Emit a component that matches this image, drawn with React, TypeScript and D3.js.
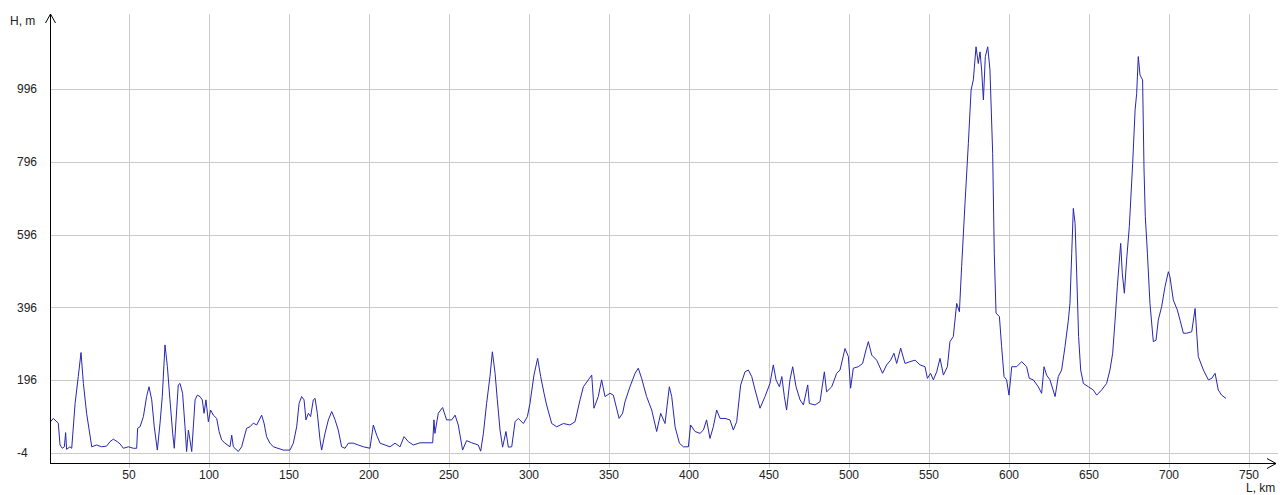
import React from 'react';
import * as d3 from 'd3';

// distance along the route, km
const distKm = [
  1.0, 2.7, 5.8, 6.9, 8.3, 9.6, 10.4, 11.0, 13.1, 14.2, 16.3, 18.3, 20.0, 21.5, 23.5, 25.6, 26.7, 29.8,
  32.9, 36.0, 38.1, 40.2, 42.7, 44.4, 46.5, 49.6, 52.7, 54.8, 55.4, 56.9, 59.0, 61.0, 62.5, 64.2, 65.8,
  67.7, 69.4, 70.8, 72.5, 74.0, 75.6, 77.3, 78.3, 79.8, 80.8, 81.9, 83.5, 85.0, 86.0, 87.1, 88.1, 89.2,
  91.3, 92.7, 94.4, 95.8, 96.9, 98.1, 99.6, 101.0, 102.7, 104.8, 106.3, 107.9, 110.0, 113.1, 114.2,
  115.2, 118.3, 120.4, 123.5, 125.6, 127.7, 129.8, 132.9, 134.4, 136.0, 138.1, 140.2, 146.5, 150.6,
  152.7, 154.8, 156.3, 157.9, 159.4, 160.6, 162.1, 163.5, 165.2, 166.3, 167.7, 169.4, 170.4, 172.5,
  174.6, 176.7, 178.8, 180.8, 182.9, 185.0, 187.1, 190.2, 193.3, 196.5, 200.6, 202.7, 204.8, 206.9,
  210.0, 213.1, 216.3, 219.4, 221.9, 224.6, 227.7, 231.9, 239.8, 240.6, 241.2, 243.3, 246.0, 248.5,
  251.7, 253.8, 255.8, 258.5, 261.0, 264.2, 268.3, 269.8, 271.5, 273.5, 275.6, 277.1, 278.8, 280.2,
  281.9, 283.5, 285.6, 287.1, 289.2, 291.3, 293.3, 296.5, 299.0, 300.6, 303.1, 305.4, 307.3, 309.4,
  311.0, 314.2, 317.3, 321.5, 325.6, 328.8, 331.9, 334.0, 337.1, 339.2, 340.6, 343.3, 345.4, 347.5,
  350.6, 352.7, 356.3, 358.5, 360.0, 363.1, 366.3, 368.3, 370.4, 373.5, 376.7, 379.8, 382.3, 385.0,
  387.7, 389.2, 391.3, 394.0, 396.5, 399.6, 401.0, 403.8, 406.9, 409.0, 411.0, 413.1, 415.2, 417.3,
  419.4, 422.5, 425.6, 427.7, 429.8, 432.3, 435.0, 437.1, 439.2, 441.3, 444.4, 447.5, 450.6, 452.7,
  454.4, 456.5, 458.0, 459.6, 461.0, 463.1, 464.8, 466.9, 469.4, 471.5, 474.2, 475.2, 478.8, 481.9,
  484.6, 486.0, 489.2, 492.3, 494.4, 497.5, 499.6, 501.0, 502.7, 505.8, 508.5, 510.6, 512.1, 514.2,
  517.3, 521.0, 523.5, 526.0, 528.1, 529.8, 532.3, 535.0, 538.1, 541.3, 544.4, 547.5, 549.0, 551.0,
  552.7, 554.8, 556.9, 559.0, 561.5, 563.1, 565.2, 567.3, 569.0, 570.4, 572.5, 574.6, 576.3, 577.7,
  579.4, 580.8, 581.9, 582.9, 584.0, 585.2, 586.7, 588.1, 589.8, 590.8, 591.9, 594.0, 595.4, 596.9,
  598.5, 600.0, 601.7, 604.8, 607.9, 611.0, 612.7, 615.2, 618.3, 620.4, 621.9, 623.5, 625.6, 628.8,
  630.8, 632.9, 635.0, 637.1, 638.1, 639.2, 640.2, 641.3, 642.3, 643.5, 644.8, 646.5, 649.6, 652.7,
  654.8, 657.9, 661.0, 663.1, 664.8, 666.3, 667.7, 669.8, 670.8, 672.1, 673.5, 675.2, 677.3, 678.8,
  679.8, 680.8, 681.9, 683.5, 684.4, 685.2, 686.5, 688.1, 690.2, 691.9, 693.3, 695.4, 697.5, 699.6,
  700.6, 702.7, 705.2, 706.9, 709.0, 711.0, 714.2, 716.3, 718.3, 721.5, 724.6, 726.7, 728.8, 730.8,
  732.9, 735.6,
];

// terrain height, m
const heightM = [
  82, 91, 78, 18, 9, 13, 52, 6, 13, 9, 132, 206, 272, 187, 105, 45, 13, 18,
  13, 15, 27, 34, 27, 21, 9, 13, 9, 9, 64, 68, 96, 151, 178, 142, 68,
  4, 78, 151, 293, 233, 142, 50, 9, 114, 183, 187, 160, 68, 0, 59, 32, 0,
  142, 155, 151, 142, 105, 142, 82, 114, 100, 91, 55, 32, 23, 13, 45,
  13, 0, 13, 64, 68, 78, 73, 100, 78, 41, 23, 13, 4, 4,
  23, 68, 132, 151, 142, 87, 105, 96, 142, 146, 105, 32, 4, 50,
  87, 110, 87, 59, 13, 9, 23, 23, 18, 13, 9, 73, 45, 23,
  18, 13, 23, 13, 41, 27, 18, 24, 24, 87, 50, 105, 121, 87,
  87, 100, 73, 4, 30, 24, 18, 1, 50, 132, 206, 274, 215, 142,
  59, 12, 55, 12, 13, 82, 91, 77, 96, 132, 210, 256, 206, 160,
  128, 77, 68, 77, 73, 82, 142, 178, 197, 210, 119, 151, 197, 151,
  160, 155, 91, 105, 137, 178, 215, 229, 201, 151, 114, 55, 105, 77,
  178, 151, 68, 23, 13, 13, 73, 55, 50, 59, 87, 36, 68, 114,
  91, 91, 87, 59, 82, 183, 219, 224, 206, 169, 119, 151, 187, 238,
  197, 178, 206, 151, 114, 197, 233, 178, 142, 128, 183, 132, 128, 137,
  219, 164, 178, 215, 224, 283, 261, 174, 229, 233, 242, 279, 302, 265,
  251, 215, 238, 251, 270, 242, 284, 242, 247, 251, 238, 233, 201, 215,
  197, 219, 256, 210, 233, 302, 316, 407, 384, 508, 682, 847, 993, 1021,
  1112, 1066, 1098, 1048, 966, 1085, 1112, 1048, 819, 545, 380, 371, 288, 206,
  197, 155, 233, 233, 247, 233, 201, 197, 178, 160, 233, 210, 197, 151,
  206, 224, 288, 361, 407, 545, 668, 627, 490, 316, 224, 187, 178, 169,
  155, 169, 187, 224, 270, 361, 453, 572, 490, 435, 526, 618, 792, 938,
  984, 1085, 1034, 1021, 773, 645, 545, 407, 302, 306, 361, 398, 453, 494,
  480, 416, 389, 361, 325, 325, 329, 393, 261, 224, 197, 201, 215, 169,
  155, 146,
];

const xTicks = [50, 100, 150, 200, 250, 300, 350, 400, 450, 500, 550, 600, 650, 700, 750];
const yTicks = [-4, 196, 396, 596, 796, 996];

const W = 1280;
const H = 495;
const axisX = 50.5;
const axisY = 463.5;
const plotTop = 14;
const plotRight = 1278;
const font = '"Liberation Sans", Arial, sans-serif';

export default function App() {
  const x = d3.scaleLinear().domain([0, 750]).range([49, 1249]);
  const y = d3.scaleLinear().domain([-4, 996]).range([453, 89]);

  const points: [number, number][] = distKm.map((d, i) => [d, heightM[i]]);
  const line = d3
    .line<[number, number]>()
    .x(d => x(d[0]))
    .y(d => y(d[1]));

  return (
    <svg
      width={W}
      height={H}
      style={{ position: 'fixed', left: 0, top: 0, background: '#fff' }}
    >
      <rect width={W} height={H} fill="#fff" />

      {/* grid */}
      <g stroke="#cacaca" strokeWidth={1} shapeRendering="crispEdges">
        {yTicks.map(t => (
          <line key={'h' + t} x1={axisX} x2={plotRight} y1={Math.round(y(t)) + 0.5} y2={Math.round(y(t)) + 0.5} />
        ))}
        {xTicks.map(t => (
          <line key={'v' + t} x1={Math.round(x(t)) + 0.5} x2={Math.round(x(t)) + 0.5} y1={plotTop} y2={axisY + 4} />
        ))}
      </g>

      {/* profile */}
      <path d={line(points) || ''} fill="none" stroke="#2626b4" strokeWidth={1} strokeLinejoin="round" />

      {/* axes */}
      <g stroke="#000" strokeWidth={1} fill="none">
        <line x1={axisX} x2={axisX} y1={plotTop} y2={axisY} shapeRendering="crispEdges" />
        <line x1={axisX} x2={1276} y1={axisY} y2={axisY} shapeRendering="crispEdges" />
        <polyline points={`${axisX - 5},${plotTop + 9} ${axisX},${plotTop} ${axisX + 5},${plotTop + 9}`} />
        <polyline points={`1267,${axisY - 5} 1276,${axisY} 1267,${axisY + 5}`} />
      </g>

      {/* tick labels */}
      <g fontFamily={font} fontSize={12} fill="#222">
        {yTicks.map(t => (
          <text key={'yl' + t} x={17} y={y(t)} dy="0.35em">{t}</text>
        ))}
        {xTicks.map(t => (
          <text key={'xl' + t} x={x(t)} y={479} textAnchor="middle">{t}</text>
        ))}
        <text x={10} y={25}>H, m</text>
        <text x={1246} y={492}>L, km</text>
      </g>
    </svg>
  );
}
